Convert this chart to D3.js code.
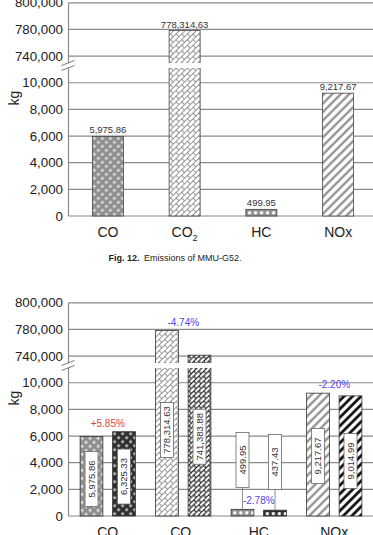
<!DOCTYPE html>
<html>
<head>
<script src="https://d3js.org/d3.v7.min.js"></script>
<style>
  body{ margin:0; background:#fff; font-family:"Liberation Sans", Arial, sans-serif; }
</style>
</head>
<body>
<div id="chart"></div>
<script>

// values
var categories = ["CO","CO2","HC","NOx"]
var g52 = [5975.86, 778314.63, 499.95, 9217.67]
var g52Labels = ["5,975.86","778,314,63","499.95","9,217.67"]
var pairA = [5975.86, 778314.63, 499.95, 9217.67]
var pairB = [6325.33, 741383.88, 437.43, 9014.99]
var pairALabels = ["5,975.86","778,314.63","499.95","9,217.67"]
var pairBLabels = ["6,325.33","741,383.88","437.43","9,014.99"]
var changes = ["+5.85%","-4.74%","-2.78%","-2.20%"]
// where the rotated value boxes sit (kg, middle of box)
var boxAt = [[2780,2960],[6450,5950],[4200,4050],[4500,4130]]
var yTicks = [0,2000,4000,6000,8000,10000,740000,780000,800000]
var yTickLabels = ["0","2,000","4,000","6,000","8,000","10,000","740,000","780,000","800,000"]

var W = 373, H = 535
var step = 26.65
var svg = d3.select("#chart").append("svg").attr("width",W).attr("height",H)
var defs = svg.append("defs")

function checker(id, c1, c2){
    var p = defs.append("pattern").attr("id",id).attr("patternUnits","userSpaceOnUse")
        .attr("width",2).attr("height",2)
    p.append("rect").attr("width",2).attr("height",2).attr("fill",c1)
    p.append("rect").attr("width",1).attr("height",1).attr("fill",c2)
    p.append("rect").attr("x",1).attr("y",1).attr("width",1).attr("height",1).attr("fill",c2)
}
checker("chkLight","#b4b4b4","#6a6a6a")
checker("chkDark","#4a4a4a","#111")

var patCount = 0
function makePattern(kind, dark, x0, y0){
    var id = "p"+(patCount++)
    var p = defs.append("pattern").attr("id",id).attr("patternUnits","userSpaceOnUse")
    if(kind=="CO"){
        p.attr("x",x0).attr("y",y0).attr("width",8).attr("height",8)
        p.append("rect").attr("width",8).attr("height",8).attr("fill",dark?"url(#chkDark)":"url(#chkLight)")
        ;[[2,2],[6,6]].forEach(function(c){
            p.append("rect").attr("x",c[0]-1.5).attr("y",c[1]-0.5).attr("width",3).attr("height",1).attr("fill","#fff")
            p.append("rect").attr("x",c[0]-0.5).attr("y",c[1]-1.5).attr("width",1).attr("height",3).attr("fill","#fff")
        })
    }
    else if(kind=="CO2"){
        var s = dark?7:8
        p.attr("width",s).attr("height",s).attr("patternTransform","rotate(-45)")
        p.append("rect").attr("width",s).attr("height",s).attr("fill","#fff")
        var col = dark?"#222":"#8a8a8a", sw = dark?1.2:0.9
        p.append("line").attr("x1",0).attr("x2",s).attr("y1",0.5).attr("y2",0.5).attr("stroke",col).attr("stroke-width",sw)
        p.append("line").attr("x1",0).attr("x2",s).attr("y1",s/2+0.5).attr("y2",s/2+0.5).attr("stroke",col).attr("stroke-width",sw)
        p.append("line").attr("x1",0.5).attr("x2",0.5).attr("y1",0).attr("y2",s/2).attr("stroke",col).attr("stroke-width",sw)
        p.append("line").attr("x1",s/2+0.5).attr("x2",s/2+0.5).attr("y1",s/2).attr("y2",s).attr("stroke",col).attr("stroke-width",sw)
    }
    else if(kind=="HC"){
        p.attr("x",x0+1).attr("y",y0).attr("width",6).attr("height",40)
        p.append("rect").attr("width",6).attr("height",40).attr("fill",dark?"url(#chkDark)":"url(#chkLight)")
        p.append("rect").attr("x",1.2).attr("y",2).attr("width",3).attr("height",3).attr("fill","#fff")
    }
    else {
        p.attr("width",6).attr("height",6).attr("patternTransform","rotate(45)")
        p.append("rect").attr("width",6).attr("height",6).attr("fill","#fff")
        p.append("line").attr("x1",1.5).attr("x2",1.5).attr("y1",0).attr("y2",6)
            .attr("stroke",dark?"#000":"#808080").attr("stroke-width",dark?2.6:2)
    }
    return "url(#"+id+")"
}

function yScaleFor(zero){
    return d3.scaleLinear().domain([0,10000,740000,780000,800000])
        .range([zero, zero-5*step, zero-6*step, zero-7*step, zero-8*step])
}

function frame(g, y, xLeft){
    g.selectAll(".grid").data(yTicks).enter().append("line")
        .attr("x1",xLeft).attr("x2",W)
        .attr("y1",function(d){return y(d)}).attr("y2",function(d){return y(d)})
        .attr("stroke","#8a8a8a").attr("stroke-width",1.2)
    g.append("line").attr("x1",xLeft).attr("x2",xLeft).attr("y1",y(800000)).attr("y2",y(0))
        .attr("stroke","#8a8a8a").attr("stroke-width",1.2)
    g.selectAll(".tick").data(yTicks).enter().append("text")
        .attr("x",63).attr("y",function(d){return y(d)}).attr("dy","0.35em")
        .attr("text-anchor","end").attr("font-size",13.3).attr("fill","#222")
        .text(function(d,i){return yTickLabels[i]})
    g.append("text").attr("transform","translate(19,"+(y(0)-118)+") rotate(-90)")
        .attr("text-anchor","middle").attr("font-size",14).attr("fill","#222").text("kg")
}

function brk(g, y, xLeft){
    var top = y(0)-153, bot = y(0)-148
    g.append("rect").attr("x",xLeft-1).attr("y",top).attr("width",W-xLeft+1).attr("height",bot-top).attr("fill","#fff")
    ;[top, bot].forEach(function(v){
        g.append("line").attr("x1",xLeft-7).attr("x2",xLeft+6).attr("y1",v+2.5).attr("y2",v-2.5)
            .attr("stroke","#777").attr("stroke-width",1)
    })
}

function catLabels(g, x, yPos){
    var t = g.selectAll(".cat").data(categories).enter().append("text")
        .attr("x",function(d){return x(d)+x.bandwidth()/2}).attr("y",yPos)
        .attr("text-anchor","middle").attr("font-size",14).attr("fill","#222")
    t.text(function(d){return d=="CO2"?"CO":d})
    t.filter(function(d){return d=="CO2"}).append("tspan").attr("font-size",9).attr("dy",4).text("2")
}

// ---------- chart 1 ----------
var g1 = svg.append("g")
var y1 = yScaleFor(216)
var x1 = d3.scaleBand().domain(categories).range([69.5,376.5]).paddingInner(0.596).paddingOuter(0.298)
frame(g1, y1, 68.5)
g1.selectAll(".bar").data(g52).enter().append("rect")
    .attr("x",function(d,i){return x1(categories[i])})
    .attr("y",function(d){return y1(d)})
    .attr("width",x1.bandwidth())
    .attr("height",function(d){return y1(0)-y1(d)})
    .attr("fill",function(d,i){return makePattern(categories[i],false,x1(categories[i]),y1(d))})
    .attr("stroke","#444").attr("stroke-width",0.8)
g1.selectAll(".vl").data(g52).enter().append("text")
    .attr("x",function(d,i){return x1(categories[i])+x1.bandwidth()/2})
    .attr("y",function(d){return y1(d)-3})
    .attr("text-anchor","middle").attr("font-size",9.5).attr("fill","#333")
    .text(function(d,i){return g52Labels[i]})
brk(g1, y1, 68.5)
catLabels(g1, x1, 237)

var cap = svg.append("text").attr("x",175).attr("y",261).attr("text-anchor","middle")
    .attr("font-size",9).attr("fill","#222")
cap.append("tspan").attr("font-weight","bold").text("Fig. 12.")
cap.append("tspan").text("\u2002Emissions of MMU-G52.")

// ---------- chart 2 ----------
var g2 = svg.append("g")
var y2 = yScaleFor(516)
var x0 = d3.scaleBand().domain(categories).range([70,372]).paddingInner(0.268).paddingOuter(0.134)
var xs = d3.scaleBand().domain([0,1]).range([0,x0.bandwidth()]).paddingInner(0.3)
frame(g2, y2, 68.5)

var rows = []
categories.forEach(function(c,i){
    rows.push({c:c, k:0, v:pairA[i], lab:pairALabels[i], box:boxAt[i][0]})
    rows.push({c:c, k:1, v:pairB[i], lab:pairBLabels[i], box:boxAt[i][1]})
})
function bx(d){return x0(d.c)+xs(d.k)}

g2.selectAll(".bar").data(rows).enter().append("rect")
    .attr("x",bx).attr("y",function(d){return y2(d.v)})
    .attr("width",xs.bandwidth()).attr("height",function(d){return y2(0)-y2(d.v)})
    .attr("fill",function(d){return makePattern(d.c,d.k==1,bx(d),y2(d.v))})
    .attr("stroke","#333").attr("stroke-width",0.8)
brk(g2, y2, 68.5)

var boxH = 55, boxW = 13
rows.forEach(function(d){
    var cx = bx(d)+xs.bandwidth()/2, cy = y2(d.box)
    if(cy+boxH/2 < y2(d.v)){
        g2.append("line").attr("x1",cx).attr("x2",cx).attr("y1",cy+boxH/2).attr("y2",y2(d.v))
            .attr("stroke","#777").attr("stroke-width",0.8)
    }
    g2.append("rect").attr("x",cx-boxW/2).attr("y",cy-boxH/2).attr("width",boxW).attr("height",boxH)
        .attr("fill","#fff").attr("stroke","#666").attr("stroke-width",0.8)
    g2.append("text").attr("transform","translate("+(cx+3.3)+","+cy+") rotate(-90)")
        .attr("text-anchor","middle").attr("font-size",9.5).attr("fill","#333").text(d.lab)
})

g2.selectAll(".pct").data(changes).enter().append("text")
    .attr("x",function(d,i){return x0(categories[i])+x0.bandwidth()/2})
    .attr("y",function(d,i){return y2(Math.max(pairA[i],pairB[i]))-5})
    .attr("text-anchor","middle").attr("font-size",10)
    .attr("fill",function(d){return d.charAt(0)=="+"?"#e0443a":"#5546e0"})
    .text(function(d){return d})
catLabels(g2, x0, 537)

</script>
</body>
</html>
